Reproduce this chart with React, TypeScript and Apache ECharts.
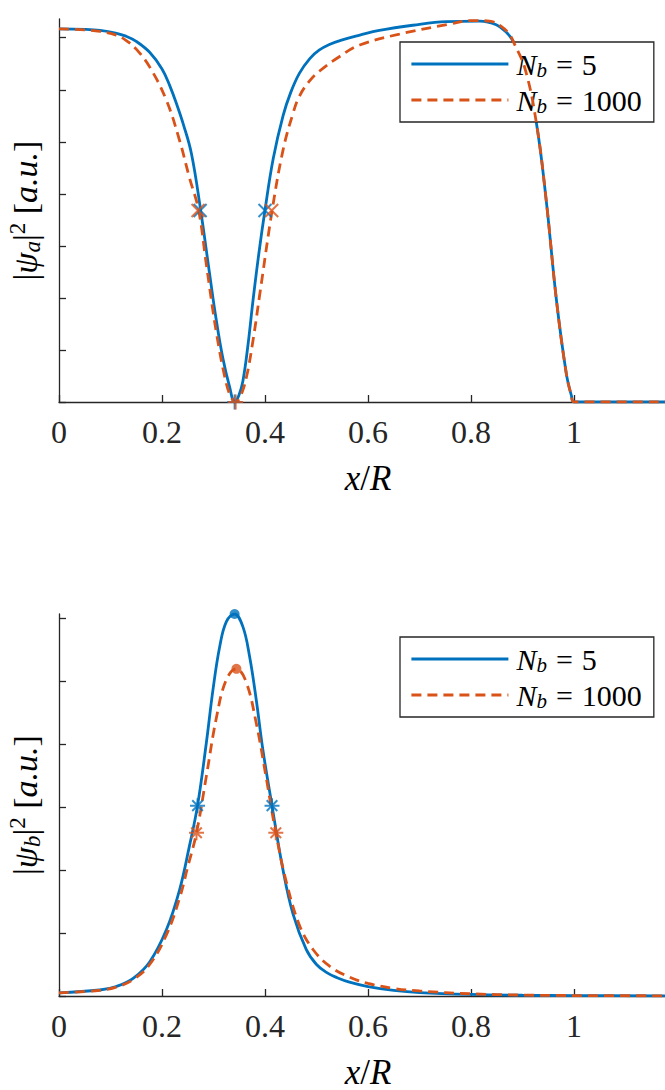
import React, { useEffect, useRef } from 'react';
import * as echarts from 'echarts';

const BLUE = '#0072BD';
const ORANGE = '#D95319';
const AX = '#262626';
const FONT = "'Liberation Serif', serif";

// x tick values / labels
const xTicks = [0, 0.2, 0.4, 0.6, 0.8, 1, 1.2];
const xLabels = [0, 0.2, 0.4, 0.6, 0.8, 1];
const yTicksA = [0, 1, 2, 3, 4, 5, 6, 7];
const yTicksB = [0, 1, 2, 3, 4, 5, 6];

// ---- top plot |psi_a|^2 ----
const aX5 = [0, 0.05, 0.08, 0.11, 0.13, 0.15, 0.176, 0.2, 0.215, 0.23, 0.241, 0.257, 0.275, 0.2926, 0.305, 0.318, 0.3315, 0.341, 0.349, 0.357, 0.367, 0.3767, 0.388, 0.4, 0.416, 0.435, 0.45, 0.467, 0.487, 0.505, 0.525, 0.55, 0.584, 0.622, 0.687, 0.752, 0.817, 0.849, 0.869, 0.882, 0.905, 0.927, 0.946, 0.966, 0.985, 0.995, 1.0, 1.2];
const aY5 = [7.17, 7.16, 7.14, 7.09, 7.03, 6.93, 6.72, 6.4, 6.08, 5.68, 5.35, 4.78, 3.69, 2.45, 1.6, 0.85, 0.28, 0.0, 0.12, 0.4, 1.1, 1.95, 2.85, 3.69, 4.68, 5.5, 5.95, 6.32, 6.6, 6.76, 6.87, 6.96, 7.05, 7.14, 7.24, 7.31, 7.32, 7.25, 7.1, 6.93, 6.4, 5.36, 3.88, 1.95, 0.55, 0.12, 0, 0];

const aX1000 = [0, 0.05, 0.08, 0.111, 0.13, 0.15, 0.176, 0.2085, 0.234, 0.253, 0.271, 0.286, 0.306, 0.325, 0.335, 0.343, 0.352, 0.364, 0.377, 0.39, 0.414, 0.435, 0.4545, 0.467, 0.485, 0.506, 0.545, 0.584, 0.661, 0.758, 0.8, 0.836, 0.86, 0.875, 0.882, 0.905, 0.927, 0.946, 0.966, 0.985, 0.995, 1.0, 1.2];
const aY1000 = [7.17, 7.15, 7.12, 7.05, 6.95, 6.78, 6.44, 5.8, 5.03, 4.32, 3.69, 2.65, 1.31, 0.35, 0.08, 0, 0.1, 0.48, 1.2, 2.08, 3.69, 4.84, 5.55, 5.88, 6.15, 6.36, 6.64, 6.86, 7.07, 7.26, 7.33, 7.32, 7.21, 7.06, 6.93, 6.4, 5.36, 3.88, 1.95, 0.55, 0.12, 0, 0];

const aHalfX5 = [0.274, 0.4];
const aHalfY5 = [3.68, 3.68];
const aHalfX1000 = [0.27, 0.413];
const aHalfY1000 = [3.68, 3.68];
const aMinX5 = [0.341];
const aMinX1000 = [0.343];
const aMinY = [0];

// ---- bottom plot |psi_b|^2 ----
const bX5 = [0, 0.079, 0.111, 0.144, 0.176, 0.2085, 0.234, 0.253, 0.269, 0.286, 0.299, 0.312, 0.325, 0.341, 0.357, 0.37, 0.383, 0.396, 0.4136, 0.435, 0.4545, 0.48, 0.5, 0.52, 0.54, 0.564, 0.6, 0.65, 0.7, 0.8, 0.9, 1.0, 1.2];
const bY5 = [0.05, 0.095, 0.15, 0.28, 0.54, 1.05, 1.68, 2.37, 3.02, 4.01, 4.86, 5.54, 5.94, 6.06, 5.86, 5.39, 4.7, 3.9, 3.02, 2.0, 1.3, 0.74, 0.5, 0.37, 0.29, 0.22, 0.15, 0.09, 0.055, 0.025, 0.012, 0.006, 0.003];

const bX1000 = [0, 0.079, 0.111, 0.144, 0.176, 0.2085, 0.234, 0.25, 0.267, 0.286, 0.306, 0.325, 0.3445, 0.363, 0.383, 0.402, 0.421, 0.442, 0.468, 0.494, 0.526, 0.564, 0.6, 0.65, 0.7, 0.8, 0.9, 1.0, 1.2];
const bY1000 = [0.05, 0.09, 0.14, 0.26, 0.5, 0.97, 1.55, 2.05, 2.59, 3.48, 4.43, 5.02, 5.19, 4.99, 4.33, 3.48, 2.59, 1.79, 1.1, 0.73, 0.47, 0.3, 0.2, 0.12, 0.08, 0.035, 0.015, 0.007, 0.003];

const bHalfX5 = [0.269, 0.4136];
const bHalfY5 = [3.02, 3.02];
const bHalfX1000 = [0.267, 0.421];
const bHalfY1000 = [2.59, 2.59];
const bPeakX5 = [0.341];
const bPeakY5 = [6.06];
const bPeakX1000 = [0.3445];
const bPeakY1000 = [5.19];

const zip = (xs: number[], ys: number[]) => xs.map((x, i) => [x, ys[i]]);

const SYM_X = 'path://M0,0L10,10M10,0L0,10';
const SYM_PLUS = 'path://M5,0L5,10M0,5L10,5';
const SYM_STAR = 'path://M5,0L5,10M0,5L10,5M1.46,1.46L8.54,8.54M8.54,1.46L1.46,8.54';

const tickFmt = (v: number) => String(Math.round(v * 10) / 10);

function xAxisDef(gridIndex: number) {
  return {
    type: 'value',
    gridIndex,
    min: 0,
    max: 1.2,
    name: '{i|x}{n|/}{i|R}',
    nameLocation: 'middle',
    nameGap: 58,
    nameTextStyle: {
      fontFamily: FONT,
      rich: {
        i: { fontFamily: FONT, fontStyle: 'italic', fontSize: 35, lineHeight: 36, color: '#000' },
        n: { fontFamily: FONT, fontSize: 35, lineHeight: 36, color: '#000' },
      },
    },
    axisLine: { show: true, onZero: false, lineStyle: { color: AX, width: 1.3 } },
    axisTick: { show: true, inside: true, length: 7, customValues: xTicks, lineStyle: { color: AX, width: 1.3 } },
    axisLabel: {
      show: true,
      customValues: xLabels,
      formatter: tickFmt,
      margin: 14,
      fontFamily: FONT,
      fontSize: 32,
      color: AX,
    },
    splitLine: { show: false },
  };
}

function yAxisDef(gridIndex: number, max: number, ticks: number[], sub: string) {
  return {
    type: 'value',
    gridIndex,
    min: 0,
    max,
    name: '{n||}{i|\u03C8}{sub|' + sub + '}{n||}{sup|2}{n| [}{i|a.u.}{n|]}',
    nameLocation: 'middle',
    nameRotate: 90,
    nameGap: 15,
    nameTextStyle: {
      fontFamily: FONT,
      rich: {
        n: { fontFamily: FONT, fontSize: 34, lineHeight: 38, color: '#000' },
        i: { fontFamily: FONT, fontStyle: 'italic', fontSize: 34, lineHeight: 38, color: '#000' },
        sub: { fontFamily: FONT, fontStyle: 'italic', fontSize: 23, lineHeight: 24, verticalAlign: 'bottom', color: '#000' },
        sup: { fontFamily: FONT, fontSize: 23, lineHeight: 22, verticalAlign: 'top', color: '#000' },
      },
    },
    axisLine: { show: true, onZero: false, lineStyle: { color: AX, width: 1.3 } },
    axisTick: { show: true, inside: true, length: 7, customValues: ticks, lineStyle: { color: AX, width: 1.3 } },
    axisLabel: { show: false },
    splitLine: { show: false },
  };
}

function legendDef(top: number) {
  const base = { fontFamily: FONT, color: '#000' };
  return {
    data: ['Nb5', 'Nb1000'],
    orient: 'vertical',
    align: 'left',
    left: 400,
    top,
    itemWidth: 97,
    itemHeight: 4,
    itemGap: 5,
    padding: [7, 12, 6, 10],
    borderColor: AX,
    borderWidth: 1.3,
    borderRadius: 0,
    backgroundColor: '#fff',
    selectedMode: false,
    itemStyle: { opacity: 0 },
    lineStyle: { width: 2.8 },
    formatter: (name: string) =>
      name === 'Nb5' ? '{g| }{i|N}{s|b}{e|=}{n|5}' : '{g| }{i|N}{s|b}{e|=}{n|1000}',
    textStyle: {
      fontFamily: FONT,
      rich: {
        g: { ...base, fontSize: 12, lineHeight: 32 },
        i: { ...base, fontStyle: 'italic', fontSize: 30, lineHeight: 32 },
        s: { ...base, fontStyle: 'italic', fontSize: 21, lineHeight: 18, verticalAlign: 'bottom' },
        e: { ...base, fontSize: 30, lineHeight: 32, padding: [0, 9, 0, 9] },
        n: { ...base, fontSize: 30, lineHeight: 32 },
      },
    },
  };
}

function lineSeries(name: string, idx: number, data: number[][], color: string, dashed: boolean, z: number) {
  return {
    type: 'line',
    name,
    xAxisIndex: idx,
    yAxisIndex: idx,
    data,
    symbol: 'none',
    smooth: 0.4,
    clip: true,
    silent: true,
    z,
    itemStyle: { color },
    lineStyle: { color, width: 2.8, type: dashed ? [10, 6] : 'solid' },
  };
}

function markerSeries(idx: number, data: number[][], symbol: string, size: number, color: string, filled: boolean, z: number) {
  return {
    type: 'scatter',
    xAxisIndex: idx,
    yAxisIndex: idx,
    data,
    symbol,
    symbolSize: size,
    clip: false,
    silent: true,
    z,
    itemStyle: filled
      ? { color }
      : { color: 'none', borderColor: color, borderWidth: 2 },
  };
}

export default function App() {
  const ref = useRef<HTMLDivElement>(null);
  useEffect(() => {
    if (!ref.current) return;
    const chart = echarts.init(ref.current, null, { renderer: 'svg' });
    const option: any = {
      animation: false,
      backgroundColor: '#fff',
      textStyle: { fontFamily: FONT },
      grid: [
        { left: 59, top: 19, width: 618, height: 383, outerBoundsMode: 'none', containLabel: false },
        { left: 59, top: 614, width: 618, height: 382, outerBoundsMode: 'none', containLabel: false },
      ],
      xAxis: [xAxisDef(0), xAxisDef(1)],
      yAxis: [yAxisDef(0, 7.36, yTicksA, 'a'), yAxisDef(1, 6.06, yTicksB, 'b')],
      legend: [legendDef(42), legendDef(637)],
      series: [
        lineSeries('Nb5', 0, zip(aX5, aY5), BLUE, false, 3),
        lineSeries('Nb1000', 0, zip(aX1000, aY1000), ORANGE, true, 4),
        markerSeries(0, zip(aHalfX5, aHalfY5), SYM_X, 13, BLUE, false, 5),
        markerSeries(0, zip(aHalfX1000, aHalfY1000), SYM_X, 13, ORANGE, false, 6),
        markerSeries(0, zip(aMinX5, aMinY), SYM_PLUS, 15, BLUE, false, 5),
        markerSeries(0, zip(aMinX1000, aMinY), SYM_PLUS, 15, ORANGE, false, 6),
        lineSeries('Nb5', 1, zip(bX5, bY5), BLUE, false, 3),
        lineSeries('Nb1000', 1, zip(bX1000, bY1000), ORANGE, true, 4),
        markerSeries(1, zip(bHalfX5, bHalfY5), SYM_STAR, 15, BLUE, false, 5),
        markerSeries(1, zip(bHalfX1000, bHalfY1000), SYM_STAR, 15, ORANGE, false, 6),
        markerSeries(1, zip(bPeakX5, bPeakY5), 'circle', 10, BLUE, true, 5),
        markerSeries(1, zip(bPeakX1000, bPeakY1000), 'circle', 10, ORANGE, true, 6),
      ],
    };
    chart.setOption(option);
    return () => chart.dispose();
  }, []);
  return (
    <div
      ref={ref}
      style={{ position: 'absolute', left: 0, top: 0, width: 665, height: 1090, overflow: 'hidden' }}
    />
  );
}
